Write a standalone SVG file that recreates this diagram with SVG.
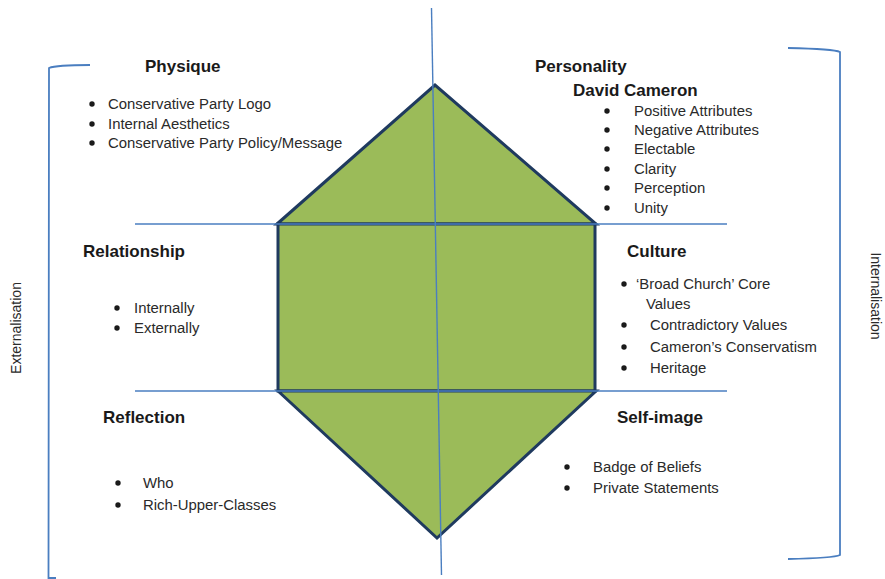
<svg xmlns="http://www.w3.org/2000/svg" width="885" height="579" viewBox="0 0 885 579">
<style>
.shape{fill:#9BBB59;stroke:#1F3A5F;stroke-width:3;stroke-linejoin:miter}
.ln{stroke:#4A7EC0;stroke-width:1.4;fill:none}
.br{stroke:#4A7EC0;stroke-width:1.8;fill:none}
.h{font-family:"Liberation Sans",Arial,sans-serif;font-weight:bold;font-size:17px;fill:#1a1a1a}
.t{font-family:"Liberation Sans",Arial,sans-serif;font-size:14.9px;fill:#2a2a2a}
.side{font-family:"Liberation Sans",Arial,sans-serif;font-size:14px;fill:#2a2a2a}
.b{fill:#1a1a1a}
</style>
<rect width="885" height="579" fill="#ffffff"/>
<g id="hexagon">
<polygon class="shape" points="277,224 435,85 596,224"/>
<rect class="shape" x="278" y="224" width="317" height="167"/>
<polygon class="shape" points="278,391 437,538 596,391"/>
</g>
<g id="connectors">
<line class="ln" x1="431.5" y1="8" x2="441.5" y2="575"/>
<line class="ln" x1="135" y1="224" x2="727" y2="224"/>
<line class="ln" x1="135" y1="391" x2="727" y2="391"/>
<path class="br" d="M90,65 Q56,65 49,68 L48.5,578 L56,578"/>
<path class="br" d="M788,48 Q834,49 840,52 L840,555 Q834,558 788,559"/>
</g>
<g id="physique">
<text class="h" x="145" y="72">Physique</text>
<circle class="b" cx="92" cy="104" r="2.7"/><text class="t" x="108" y="109">Conservative Party Logo</text>
<circle class="b" cx="92" cy="124" r="2.7"/><text class="t" x="108" y="129">Internal Aesthetics</text>
<circle class="b" cx="92" cy="143" r="2.7"/><text class="t" x="108" y="148">Conservative Party Policy/Message</text>
</g>
<g id="personality">
<text class="h" x="535" y="72">Personality</text>
<text class="h" x="573" y="96">David Cameron</text>
<circle class="b" cx="607" cy="111" r="2.7"/><text class="t" x="634" y="116">Positive Attributes</text>
<circle class="b" cx="607" cy="130" r="2.7"/><text class="t" x="634" y="135">Negative Attributes</text>
<circle class="b" cx="607" cy="149" r="2.7"/><text class="t" x="634" y="154">Electable</text>
<circle class="b" cx="607" cy="169" r="2.7"/><text class="t" x="634" y="174">Clarity</text>
<circle class="b" cx="607" cy="188" r="2.7"/><text class="t" x="634" y="193">Perception</text>
<circle class="b" cx="607" cy="208" r="2.7"/><text class="t" x="634" y="213">Unity</text>
</g>
<g id="relationship">
<text class="h" x="83" y="257">Relationship</text>
<circle class="b" cx="117" cy="308" r="2.7"/><text class="t" x="134" y="313">Internally</text>
<circle class="b" cx="117" cy="328" r="2.7"/><text class="t" x="134" y="333">Externally</text>
</g>
<g id="culture">
<text class="h" x="627" y="257">Culture</text>
<circle class="b" cx="624" cy="284" r="2.7"/><text class="t" x="636" y="289">‘Broad Church’ Core</text>
<text class="t" x="646" y="309">Values</text>
<circle class="b" cx="624" cy="325" r="2.7"/><text class="t" x="650" y="330">Contradictory Values</text>
<circle class="b" cx="624" cy="347" r="2.7"/><text class="t" x="650" y="352">Cameron’s Conservatism</text>
<circle class="b" cx="624" cy="368" r="2.7"/><text class="t" x="650" y="373">Heritage</text>
</g>
<g id="reflection">
<text class="h" x="103" y="423">Reflection</text>
<circle class="b" cx="118" cy="483" r="2.7"/><text class="t" x="143" y="488">Who</text>
<circle class="b" cx="118" cy="505" r="2.7"/><text class="t" x="143" y="510">Rich-Upper-Classes</text>
</g>
<g id="self-image">
<text class="h" x="617" y="423">Self-image</text>
<circle class="b" cx="567" cy="467" r="2.7"/><text class="t" x="593" y="472">Badge of Beliefs</text>
<circle class="b" cx="567" cy="488" r="2.7"/><text class="t" x="593" y="493">Private Statements</text>
</g>
<g id="externalisation">
<text class="side" transform="translate(21,328) rotate(-90)" text-anchor="middle">Externalisation</text>
</g>
<g id="internalisation">
<text class="side" transform="translate(871,296) rotate(90)" text-anchor="middle">Internalisation</text>
</g>
</svg>
